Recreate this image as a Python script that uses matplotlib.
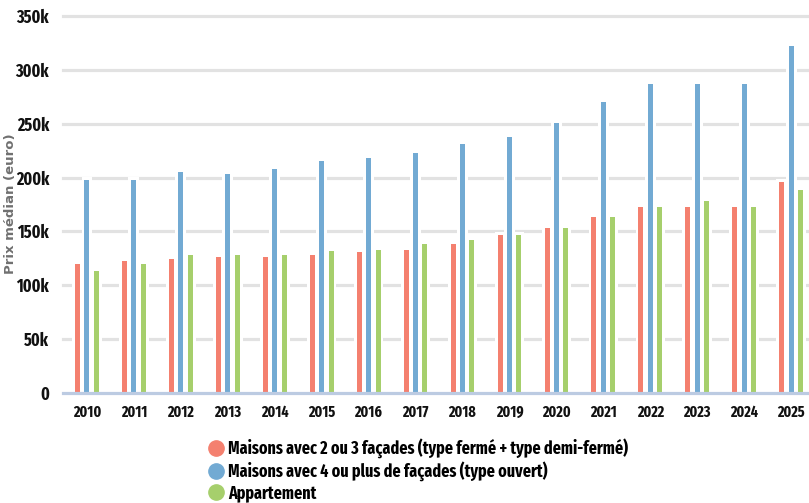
import matplotlib
matplotlib.use("Agg")
import matplotlib.pyplot as plt
from matplotlib.lines import Line2D
import numpy as np

years = ["2010", "2011", "2012", "2013", "2014", "2015", "2016", "2017",
         "2018", "2019", "2020", "2021", "2022", "2023", "2024", "2025"]
maisons_2_3 = [120, 123, 124, 126, 126, 128, 131, 133, 138, 147, 153, 163, 173, 173, 173, 196]
maisons_4 = [198, 198, 205, 203, 208, 215, 218, 223, 231, 238, 251, 270, 287, 287, 287, 322]
appartement = [113, 120, 128, 128, 128, 132, 133, 138, 142, 147, 153, 163, 173, 178, 173, 188]
series_labels = ["Maisons avec 2 ou 3 façades (type fermé + type demi-fermé)",
                 "Maisons avec 4 ou plus de façades (type ouvert)",
                 "Appartement"]
colors = ["#F4806F", "#72AAD3", "#A6CF6C"]
yticks = [0, 50, 100, 150, 200, 250, 300, 350]
ytick_labels = ["0", "50k", "100k", "150k", "200k", "250k", "300k", "350k"]

FONT = ["Fira Sans Extra Condensed", "DejaVu Sans"]
plt.rcParams["font.family"] = FONT

fig = plt.figure(figsize=(8.09, 5.03), dpi=100)
ax = fig.add_axes([63 / 809, 1 - 393 / 503, 1 - 63 / 809, (393 - 16) / 503])

x = np.arange(len(years))
offsets = [-0.2, 0.0, 0.2]
bar_w = 0.107
halo_w = 0.23
for vals, off in zip([maisons_2_3, maisons_4, appartement], offsets):
    ax.bar(x + off, np.array(vals) + 2.5, width=halo_w, color="white", zorder=2)
for vals, off, col in zip([maisons_2_3, maisons_4, appartement], offsets, colors):
    ax.bar(x + off, vals, width=bar_w, color=col, zorder=3)

ax.set_ylim(0, 350)
ax.set_xlim(-0.51, 15.38)
ax.set_yticks(yticks)
ax.set_yticklabels(ytick_labels)
ax.set_xticks(x)
ax.set_xticklabels(years)
for y in yticks[1:]:
    ax.axhline(y, color="#e2e2e2", lw=2.3, zorder=1, clip_on=False)
ax.axhline(0, color="#bccbe2", lw=2.3, zorder=4, clip_on=False)

for s in ax.spines.values():
    s.set_visible(False)
ax.tick_params(axis="both", length=0)
ax.tick_params(axis="y", pad=10, labelsize=12.5)
ax.tick_params(axis="x", pad=8, labelsize=11)
for lab in ax.get_yticklabels() + ax.get_xticklabels():
    lab.set_fontweight("bold")
    lab.set_color("#111111")

fig.text(11 / 809, 1 - 204 / 503, "Prix médian (euro)", rotation=90, ha="center", va="center",
         fontsize=9.5, fontweight="bold", color="#707070", family=["DejaVu Sans"])

handles = [Line2D([0], [0], marker="o", linestyle="none", markersize=11,
                  markerfacecolor=c, markeredgecolor=c) for c in colors]
leg = fig.legend(handles, series_labels, loc="upper left",
                 bbox_to_anchor=(207 / 809, 1 - 438 / 503), frameon=False,
                 prop={"family": FONT, "weight": "bold", "size": 12.5},
                 handletextpad=0.2, labelspacing=0.18, handlelength=1.0,
                 borderaxespad=0, borderpad=0)

fig.savefig("out.png", dpi=100)
